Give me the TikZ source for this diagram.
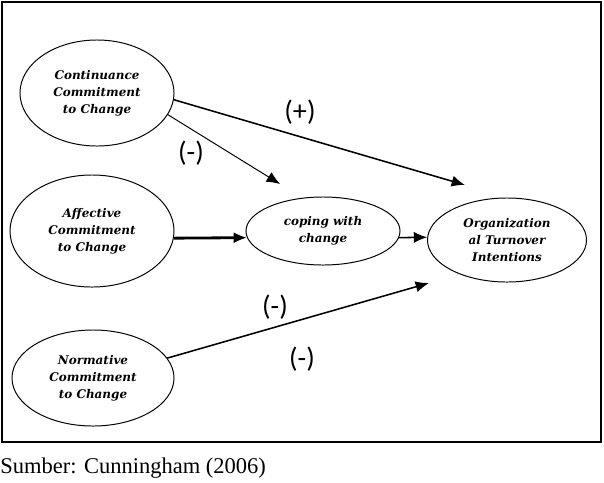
\documentclass[tikz,border=0pt]{standalone}
\usepackage{fontspec}
\setmainfont{Liberation Serif}
\newfontfamily\boxfont{DejaVu Serif}
\newfontfamily\signfont{Carlito}
\usepackage{tikz}
\usetikzlibrary{arrows.meta}
\usetikzlibrary{positioning,shapes.geometric}

\begin{document}
\begin{tikzpicture}[x=0.025cm, y=-0.025cm, >={Latex[length=9.5pt,width=8pt]}]
		\tikzstyle{var}=[ellipse, draw, line width=0.7pt, inner sep=0pt, align=center,
			font=\boxfont\bfseries\itshape\fontsize{8.5}{12}\selectfont]
		\tikzstyle{sign}=[font=\signfont\fontsize{20}{22}\selectfont]
		
		\useasboundingbox (0,0) rectangle (604,482);
		\draw[line width=1.5pt] (2,2) rectangle (601,442);
		
		\node[var, minimum width=3.85cm, minimum height=2.65cm] (cont) at (97, 93)  {Continuance\\Commitment\\to Change};
		\node[var, minimum width=4.1cm,  minimum height=2.8cm]  (aff)  at (92, 231) {Affective\\Commitment\\to Change};
		\node[var, minimum width=4.05cm, minimum height=2.4cm]  (norm) at (93, 378) {Normative\\Commitment\\to Change};
		\node[var, minimum width=3.85cm, minimum height=1.7cm]  (cope) at (323,231) {coping with\\change};
		\node[var, minimum width=3.975cm,minimum height=2.1cm]  (org)  at (507,240) {Organization\\al Turnover\\ Intentions};
		
		\coordinate (contorg) at (465,185);
		\coordinate (contcope) at (280,184);
		\coordinate (normorg) at (429,283);
		
		\draw[->, line width=1.1pt] (cont.-5) -- (contorg);
		\draw[->, line width=0.7pt] (cont.-17) -- (contcope);
		\draw[->, line width=2pt] (aff.-5) -- (cope.185);
		\draw[->, line width=1.1pt] (cope.-5) -- (org.178);
		\draw[->, line width=1.1pt] (norm.15) -- (normorg);
		
		\node[sign] (plus)  at (300,112) {(+)};
		\node[sign] (minA)  at (191,153) {(-)};
		\node[sign] (minB)  at (275,307) {(-)};
		\node[sign] (minC)  at (302,359) {(-)};
		
		\node[anchor=west, inner sep=0pt, font=\fontsize{16}{18}\selectfont] (src) at (0,468) {Sumber: Cunningham (2006)};
\end{tikzpicture}
\end{document}
